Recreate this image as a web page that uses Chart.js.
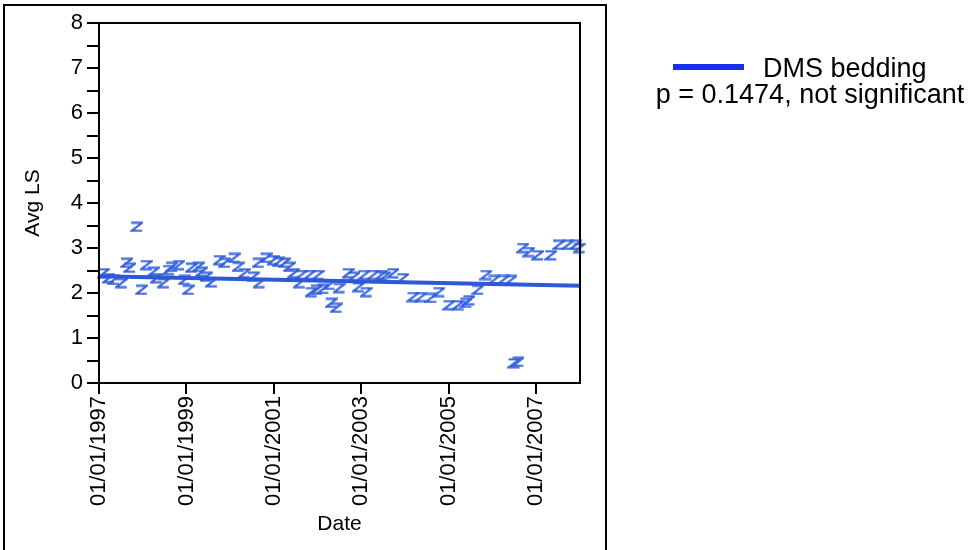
<!DOCTYPE html>
<html>
<head>
<meta charset="utf-8">
<script src="https://cdn.jsdelivr.net/npm/chart.js@4.4.1/dist/chart.umd.min.js"></script>
<style>
  body { margin: 0; background: #fff; }
  canvas { display: block; }
</style>
</head>
<body>
<canvas id="chart" width="968" height="550"></canvas>
<script>
// dates as decimal years
const dates = [
  1997.10, 1997.22, 1997.33, 1997.51, 1997.63, 1997.70, 1997.86, 1997.97,
  1998.08, 1998.24, 1998.31, 1998.47, 1998.59, 1998.66, 1998.82, 1998.95,
  1999.04, 1999.11, 1999.27, 1999.34, 1999.45, 1999.57, 1999.75, 1999.87,
  2000.09, 2000.18, 2000.32, 2000.53, 2000.64, 2000.66, 2000.82, 2000.98,
  2001.10, 2001.24, 2001.35, 2001.45, 2001.58, 2001.62, 2001.81, 2001.85,
  2001.97, 2002.01, 2002.12, 2002.26, 2002.31, 2002.42, 2002.49, 2002.70,
  2002.83, 2002.93, 2003.06, 2003.11, 2003.27, 2003.45, 2003.52, 2003.72,
  2003.95, 2004.18, 2004.36, 2004.59, 2004.77, 2005.00, 2005.21, 2005.39,
  2005.46, 2005.66, 2005.85, 2006.03, 2006.24, 2006.42, 2006.49, 2006.58,
  2006.69, 2006.83, 2007.03, 2007.33, 2007.51, 2007.72, 2007.90, 2007.98
];
const avgLS = [
  2.44, 2.33, 2.29, 2.22, 2.67, 2.56, 3.47, 2.07,
  2.62, 2.47, 2.33, 2.22, 2.51, 2.58, 2.62, 2.29,
  2.07, 2.56, 2.58, 2.47, 2.36, 2.24, 2.73, 2.67,
  2.78, 2.58, 2.44, 2.36, 2.67, 2.22, 2.78, 2.73,
  2.69, 2.67, 2.58, 2.44, 2.22, 2.40, 2.40, 2.02,
  2.07, 2.40, 2.09, 2.18, 1.78, 1.67, 2.11, 2.44,
  2.36, 2.13, 2.40, 2.02, 2.40, 2.40, 2.36, 2.44,
  2.33, 1.91, 1.91, 1.89, 2.02, 1.73, 1.73, 1.78,
  1.84, 2.07, 2.40, 2.29, 2.29, 2.29, 0.44, 0.47,
  3.00, 2.91, 2.84, 2.84, 3.07, 3.07, 3.07, 3.00
];
// fitted trend line ends
const trendDates = [1997, 2008];
const trendValues = [2.37, 2.16];

const xTickValues = [1997, 1999, 2001, 2003, 2005, 2007];
const xTickLabels = ['01/01/1997', '01/01/1999', '01/01/2001', '01/01/2003', '01/01/2005', '01/01/2007'];
const seriesName = 'DMS bedding';
const pNote = 'p = 0.1474, not significant';

Chart.defaults.font.family = '"Liberation Sans", Arial, sans-serif';
Chart.defaults.color = '#000';

// "Z" marker used as point style
const zMark = document.createElement('canvas');
zMark.width = 13;
zMark.height = 11;
const zc = zMark.getContext('2d');
zc.strokeStyle = '#2f5ed9';
zc.lineWidth = 2.2;
zc.beginPath();
zc.moveTo(1, 1.5);
zc.lineTo(12, 1.5);
zc.lineTo(1.5, 9.5);
zc.lineTo(12, 9.5);
zc.stroke();

const framePlugin = {
  id: 'frame',
  beforeDraw(chart) {
    const ctx = chart.ctx;
    ctx.save();
    ctx.strokeStyle = '#000';
    ctx.lineWidth = 2;
    ctx.strokeRect(4, 5, 602, 560);
    ctx.restore();
  },
  afterDraw(chart) {
    const ctx = chart.ctx;
    const { left, top, right, bottom } = chart.chartArea;
    ctx.save();
    ctx.strokeStyle = '#000';
    ctx.lineWidth = 2;
    ctx.strokeRect(left, top, right - left, bottom - top);
    // legend
    ctx.strokeStyle = '#1b2ef0';
    ctx.lineWidth = 6;
    ctx.beginPath();
    ctx.moveTo(673, 67);
    ctx.lineTo(744, 67);
    ctx.stroke();
    ctx.fillStyle = '#000';
    ctx.font = '27px "Liberation Sans", Arial, sans-serif';
    ctx.textBaseline = 'alphabetic';
    ctx.textAlign = 'left';
    ctx.fillText(seriesName, 763, 77);
    ctx.textAlign = 'center';
    ctx.fillText(pNote, 810, 103);
    ctx.restore();
  }
};

new Chart(document.getElementById('chart'), {
  type: 'scatter',
  data: {
    datasets: [
      {
        type: 'line',
        label: seriesName + ' trend',
        data: trendDates.map((d, i) => ({ x: d, y: trendValues[i] })),
        borderColor: '#2d58d8',
        borderWidth: 4,
        pointRadius: 0,
        fill: false
      },
      {
        label: seriesName,
        data: dates.map((d, i) => ({ x: d, y: avgLS[i] })),
        pointStyle: zMark,
        pointRadius: 6,
        clip: false
      }
    ]
  },
  plugins: [framePlugin],
  options: {
    responsive: false,
    animation: false,
    layout: { padding: { top: 23, right: 388, left: 0, bottom: 0 } },
    plugins: { legend: { display: false }, tooltip: { enabled: false } },
    scales: {
      x: {
        type: 'linear',
        min: 1997,
        max: 2008,
        afterBuildTicks: scale => { scale.ticks = xTickValues.map(v => ({ value: v })); },
        afterFit: scale => { scale.height = 167; },
        ticks: {
          autoSkip: false,
          minRotation: 90,
          maxRotation: 90,
          padding: 2,
          font: { size: 22 },
          callback: v => xTickLabels[xTickValues.indexOf(v)]
        },
        grid: { drawOnChartArea: false, drawTicks: true, tickLength: 11, color: '#000', lineWidth: 2 },
        border: { display: true, color: '#000', width: 2 },
        title: { display: true, text: 'Date', font: { size: 21 }, padding: { bottom: 13 } }
      },
      y: {
        min: 0,
        max: 8,
        afterFit: scale => { scale.width = 99; },
        ticks: {
          stepSize: 0.5,
          autoSkip: false,
          padding: 4,
          font: { size: 22 },
          callback: v => (v % 1 === 0 ? v : '')
        },
        grid: { drawOnChartArea: false, drawTicks: true, tickLength: 12, color: '#000', lineWidth: 2 },
        border: { display: true, color: '#000', width: 2 },
        title: { display: true, text: 'Avg LS', font: { size: 21 }, padding: { top: 21 } }
      }
    }
  }
});
</script>
</body>
</html>
